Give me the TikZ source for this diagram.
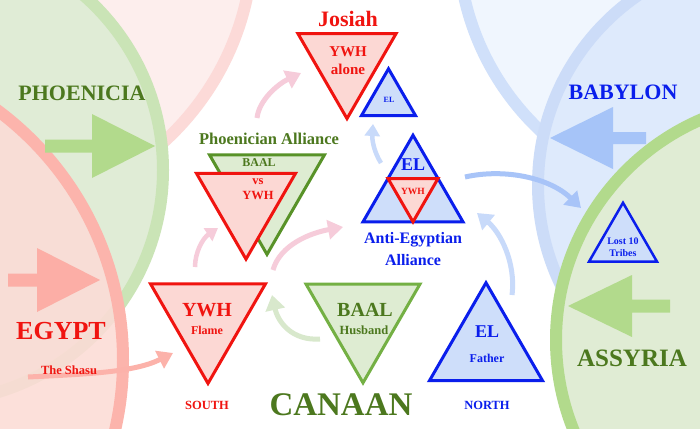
\documentclass[tikz,border=0pt]{standalone}
\usepackage{fontspec}
\setmainfont{Liberation Serif}
\usepackage{tikz}
\usetikzlibrary{shapes.geometric}
\usetikzlibrary{arrows.meta}
\usepackage{xcolor}
\definecolor{tred}{RGB}{240,20,16}
\definecolor{tpink}{RGB}{252,216,212}
\definecolor{tblue}{RGB}{10,30,236}
\definecolor{tbluefill}{RGB}{206,222,250}
\definecolor{tgreen}{RGB}{116,176,68}
\definecolor{tgreendk}{RGB}{88,146,40}
\definecolor{tgreenfill}{RGB}{222,236,210}
\definecolor{tgreentxt}{RGB}{76,120,30}
% lands
\definecolor{pinkbg}{RGB}{253,238,237}
\definecolor{pinkband}{RGB}{252,218,216}
\definecolor{skybg}{RGB}{240,246,254}
\definecolor{skyband}{RGB}{208,224,250}
\definecolor{phoebg}{RGB}{224,236,214}
\definecolor{phoeband}{RGB}{202,228,182}
\definecolor{babbg}{RGB}{222,234,252}
\definecolor{babband}{RGB}{204,220,248}
\definecolor{egybg}{RGB}{252,220,214}
\definecolor{egyband}{RGB}{252,180,172}
\definecolor{assbg}{RGB}{224,236,212}
\definecolor{assband}{RGB}{178,218,140}
% arrows
\definecolor{greenarr}{RGB}{178,218,140}
\definecolor{egyarr}{RGB}{252,174,166}
\definecolor{babarr}{RGB}{166,196,248}
\definecolor{pinkarr}{RGB}{246,204,218}
\definecolor{shasuarr}{RGB}{252,178,170}
\definecolor{baalarr}{RGB}{216,232,204}
\definecolor{elarr}{RGB}{200,218,250}
\definecolor{lostarr}{RGB}{168,196,248}
\newcommand{\setfs}[1]{\fontsize{#1}{#1}\selectfont}

\begin{document}
\begin{tikzpicture}[x=1pt, y=-1pt,
		tu/.style = {regular polygon, regular polygon sides=3, draw=tblue, fill=tbluefill, line width=3pt, inner sep=0pt},
		td/.style = {regular polygon, regular polygon sides=3, shape border rotate=180, draw=tred, fill=tpink, line width=3pt, inner sep=0pt},
		tg/.style = {td, draw=tgreen, fill=tgreenfill},
		lbl/.style = {inner sep=0pt, align=center, font=\bfseries\setfs{#1}},
		ring/.style = {line width=12pt},
		cur/.style = {-{Triangle[width=19pt,length=15pt]}, line width=5pt},
		cursm/.style = {-{Triangle[width=15pt,length=12pt]}, line width=4.5pt},
		]
		
		% === === Lands === ===
		\useasboundingbox (0,0) rectangle (700,428);
		\clip (0,0) rectangle (700,428);
		\fill[white] (0,0) rectangle (700,428);
		\draw[ring, draw=pinkband, fill=pinkbg]	(-20,-60)	circle[radius=273];
		\draw[ring, draw=skyband, fill=skybg]	(720,-60)	circle[radius=262];
		\draw[ring, draw=phoeband, fill=phoebg]	(-69,170)	circle[radius=232];
		\draw[ring, draw=babband, fill=babbg]	(768,185)	circle[radius=230];
		\draw[ring, draw=egyband, fill=egybg, fill opacity=.88]	(-188,360)	circle[radius=311];
		\draw[ring, draw=assband, fill=assbg]	(796,340)	circle[radius=240];
		
		\fill[greenarr]	(45,139.5) -- (92,139.5) -- (92,114) -- (155,146) -- (92,178) -- (92,152.5) -- (45,152.5) -- cycle;
		\fill[egyarr]	(8,273.5) -- (37,273.5) -- (37,248) -- (100,280) -- (37,312) -- (37,286.5) -- (8,286.5) -- cycle;
		\fill[babarr]	(646,132) -- (613,132) -- (613,107) -- (550,138) -- (613,169) -- (613,144) -- (646,144) -- cycle;
		\fill[greenarr]	(670,299.5) -- (632,299.5) -- (632,275) -- (568,306) -- (632,337) -- (632,312.5) -- (670,312.5) -- cycle;
		
		% === === Lines === ===
		\coordinate (a1) at (257,118);	\coordinate (b1) at (301,73);
		\coordinate (a2) at (195,267);	\coordinate (b2) at (218,228);
		\coordinate (a3) at (273,270);	\coordinate (b3) at (343,227);
		\coordinate (a4) at (28,377);	\coordinate (b4) at (173,353);
		\coordinate (a5) at (320,339);	\coordinate (b5) at (272,295);
		\coordinate (a6) at (512,295);	\coordinate (b6) at (477,213);
		\coordinate (a7) at (381,163);	\coordinate (b7) at (373,124);
		\coordinate (a8) at (465,177);	\coordinate (b8) at (581,208);
		\draw[cur, pinkarr]		(a1) .. controls (259,100) and (278,84) .. (b1);
		\draw[cursm, pinkarr]	(a2) .. controls (195,252) and (203,238) .. (b2);
		\draw[cur, pinkarr]		(a3) .. controls (280,245) and (310,233) .. (b3);
		\draw[cur, shasuarr]	(a4) .. controls (90,374) and (135,372) .. (b4);
		\draw[cur, baalarr]		(a5) .. controls (292,341) and (278,322) .. (b5);
		\draw[cur, elarr]		(a6) .. controls (516,262) and (500,232) .. (b6);
		\draw[cursm, elarr]		(a7) .. controls (374,152) and (372,140) .. (b7);
		\draw[cur, lostarr]		(a8) .. controls (505,168) and (550,178) .. (b8);
		
		% === === Nodes === ===
		\node[td, minimum size=113.2]	(josiah)	at (347,62)		{};
		\node[tu, minimum size=62.4]	(elsmall)	at (388.5,100)	{};
		\node[tg, draw=tgreendk, minimum size=132.8]	(baalback)	at (267,188)	{};
		\node[td, minimum size=114.3]	(vsywh)		at (246,202)	{};
		\node[tu, minimum size=115.5]	(anti)		at (413,193)	{};
		\node[td, minimum size=57.7]	(inner)		at (anti.center)	{};
		\node[td, minimum size=132.8]	(flame)		at (208,317)	{};
		\node[tg, minimum size=131.6]	(husband)	at (363,317)	{};
		\node[tu, minimum size=130.5]	(father)	at (486,348)	{};
		\node[tu, line width=2.5pt, minimum size=78.5]	(lost)	at (623,242)	{};
		
		\node[lbl=15, text=tred]		(josiahtxt)	at (348,61)		{YWH\\[3pt]alone};
		\node[lbl=8, text=tblue]		(eltxt)		at (389,100)	{EL};
		\node[lbl=12, text=tgreentxt]	(baaltxt)	at (259,163)	{BAAL};
		\node[lbl=12.5, text=tred]		(vstxt)		at (258,189)	{vs\\[2pt]YWH};
		\node[lbl=18, text=tblue]		(antiel)	at (413,165)	{EL};
		\node[lbl=9.5, text=tred]		(innertxt)	at (413,191)	{YWH};
		\node[lbl=20, text=tred]		(flameywh)	at (207,310)	{YWH};
		\node[lbl=12, text=tred]		(flametxt)	at (207,330)	{Flame};
		\node[lbl=20, text=tgreentxt]	(husbaal)	at (365,310)	{BAAL};
		\node[lbl=12.5, text=tgreentxt]	(hustxt)	at (364,330)	{Husband};
		\node[lbl=18, text=tblue]		(fatherel)	at (487,332)	{EL};
		\node[lbl=12, text=tblue]		(fathertxt)	at (487,358)	{Father};
		\node[lbl=10, text=tblue]		(losttxt)	at (623,247)	{Lost 10\\[2.5pt]Tribes};
		
		\node[lbl=22, text=tgreentxt]	(phoenicia)	at (82,93)		{PHOENICIA};
		\node[lbl=26, text=tred]		(egypt)		at (61,331)		{EGYPT};
		\node[lbl=12.5, text=tred]		(shasu)		at (69,370)		{The Shasu};
		\node[lbl=12.5, text=tred]		(south)		at (207,405)	{SOUTH};
		\node[lbl=33, text=tgreentxt]	(canaan)	at (341,405)	{CANAAN};
		\node[lbl=12.5, text=tblue]		(north)		at (487,405)	{NORTH};
		\node[lbl=22, text=tred]		(josiahlbl)	at (348,19)		{Josiah};
		\node[lbl=22, text=tblue]		(babylon)	at (623,92)		{BABYLON};
		\node[lbl=25, text=tgreentxt]	(assyria)	at (632,358)	{ASSYRIA};
		\node[lbl=16.5, text=tgreentxt]	(phoenall)	at (269,139)	{Phoenician Alliance};
		\node[lbl=16, text=tblue]		(antiall)	at (413,249)	{Anti-Egyptian\\[6pt]Alliance};
		
	\end{tikzpicture}
\end{document}
